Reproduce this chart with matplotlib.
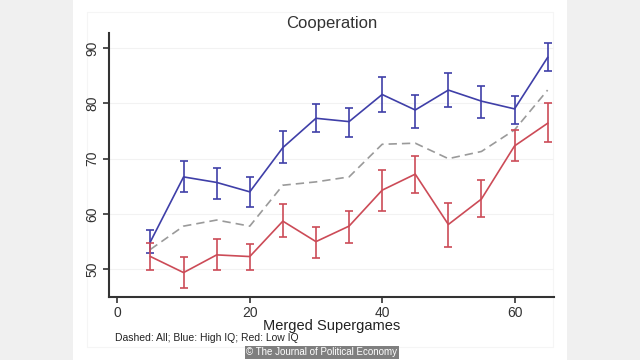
import matplotlib.pyplot as plt
from matplotlib.patches import Rectangle

plt.rcParams["font.family"] = ["Liberation Sans", "DejaVu Sans"]

# Cooperation by merged supergame
supergames = [5, 10, 15, 20, 25, 30, 35, 40, 45, 50, 55, 60, 65]
high_iq = [55.0, 66.7, 65.7, 64.0, 72.0, 77.3, 76.7, 81.6, 78.8, 82.4, 80.4, 79.0, 88.3]
high_lo = [52.9, 63.9, 62.7, 61.3, 69.3, 74.9, 74.0, 78.4, 75.6, 79.4, 77.4, 76.2, 85.9]
high_hi = [57.1, 69.6, 68.4, 66.6, 75.0, 79.9, 79.2, 84.8, 81.6, 85.4, 83.2, 81.4, 90.9]
low_iq = [52.3, 49.4, 52.6, 52.3, 58.7, 55.0, 57.8, 64.3, 67.2, 58.1, 62.7, 72.3, 76.4]
low_lo = [49.8, 46.6, 49.8, 49.9, 55.9, 52.1, 54.8, 60.6, 63.8, 54.0, 59.4, 69.5, 73.1]
low_hi = [54.8, 52.2, 55.5, 54.6, 61.8, 57.7, 60.5, 67.9, 70.5, 61.9, 66.1, 75.2, 80.0]
all_subjects = [53.6, 57.8, 58.9, 57.8, 65.2, 65.8, 66.7, 72.6, 72.8, 70.0, 71.3, 75.2, 82.4]

blue = "#3f3fa8"
red = "#cc4b57"

fig = plt.figure(figsize=(6.4, 3.6), dpi=100, facecolor="#f0f0f0")
fig.patches.append(Rectangle((0.114, 0.0), 0.772, 1.0, transform=fig.transFigure,
                             facecolor="white", edgecolor="none", zorder=-5))
fig.patches.append(Rectangle((0.136, 0.036), 0.728, 0.93, transform=fig.transFigure,
                             facecolor="none", edgecolor="#f5f5f5", linewidth=0.8, zorder=-4))
ax = fig.add_axes([0.171, 0.176, 0.695, 0.732])
ax.set_facecolor("none")

ax.plot(supergames, all_subjects, color="#9a9a9a", linestyle=(0, (5, 3)), linewidth=1.2)
for y, lo, hi, col in [(high_iq, high_lo, high_hi, blue), (low_iq, low_lo, low_hi, red)]:
    err = [[v - l for v, l in zip(y, lo)], [h - v for v, h in zip(y, hi)]]
    ax.errorbar(supergames, y, yerr=err, color=col, linewidth=1.2,
                elinewidth=1.2, capsize=3, capthick=1.2)

ax.set_xlim(-1.2, 66.0)
ax.set_ylim(45.05, 92.7)
ax.set_xticks([0, 20, 40, 60])
ax.set_yticks([50, 60, 70, 80, 90])
ax.set_yticklabels(["50", "60", "70", "80", "90"], rotation=90, va="center")
ax.grid(axis="y", color="#f2f2f2", linewidth=0.8)
ax.set_axisbelow(True)
for side in ["top", "right"]:
    ax.spines[side].set_visible(False)
for side in ["left", "bottom"]:
    ax.spines[side].set_color("#333333")
    ax.spines[side].set_linewidth(1.5)
ax.tick_params(colors="#333333", labelsize=10, length=4, width=1.2)
ax.tick_params(axis="x", pad=3)

ax.set_xlabel("Merged Supergames", fontsize=10.5, color="#222222", labelpad=-1)
ax.set_title("Cooperation", fontsize=12, color="#333333", pad=4)

fig.text(0.18, 0.06, "Dashed: All; Blue: High IQ; Red: Low IQ", fontsize=7.5,
         color="#222222", va="center")
fig.text(0.385, 0.022, "\u00a9 The Journal of Political Economy", fontsize=7,
         color="white", va="center",
         bbox=dict(boxstyle="square,pad=0.15", facecolor="#7f7f7f", edgecolor="none"))

fig.savefig("out.png", dpi=100, facecolor=fig.get_facecolor())
